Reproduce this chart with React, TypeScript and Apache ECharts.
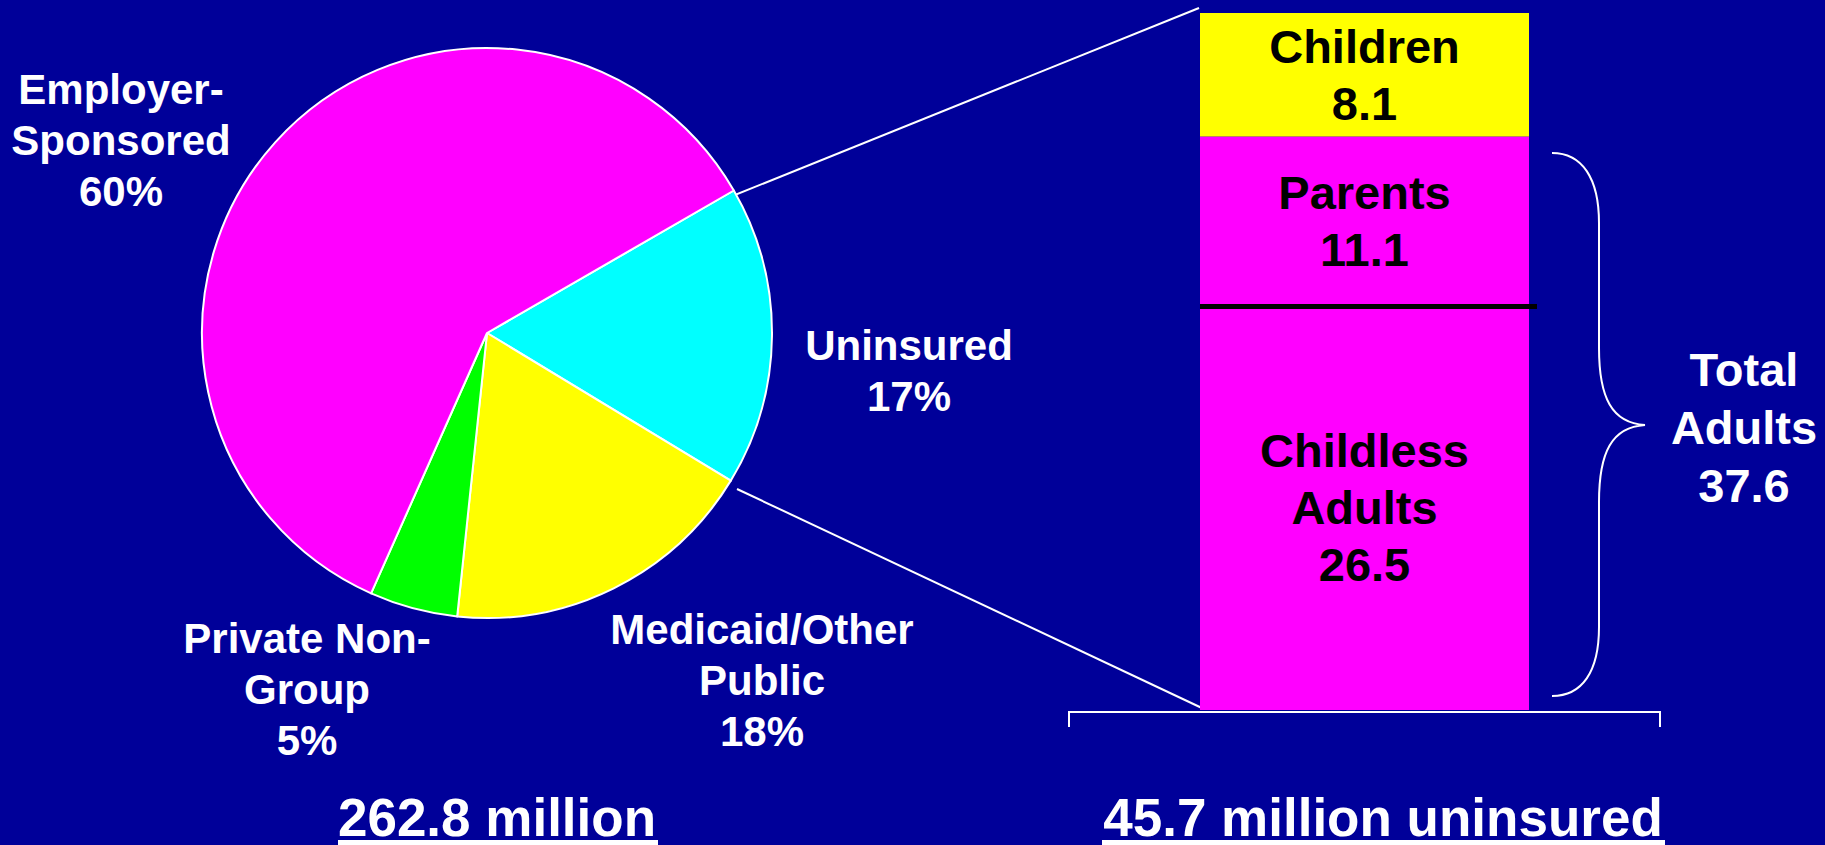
import React, { useEffect, useRef } from 'react';
import * as echarts from 'echarts';

// ---- Data ----
const pieNames = ['Uninsured', 'Medicaid/Other\nPublic', 'Private Non-\nGroup', 'Employer-\nSponsored'];
const pieValues = [17, 18, 5, 60];
const pieColors = ['#00FFFF', '#FFFF00', '#00FF00', '#FF00FF'];

const barNames = ['Childless\nAdults', 'Parents', 'Children'];
const barValues = [26.5, 11.1, 8.1];
const barColors = ['#FF00FF', '#FF00FF', '#FFFF00'];

const totalPopulation = 262.8; // million

// ---- Layout (positions/styles) ----
const pieLabelPos = [
  [909, 371],
  [762, 680],
  [307, 689],
  [121, 140],
];
const FONT = '"Liberation Sans", Arial, Helvetica, sans-serif';
const BG = '#000099';

echarts.graphic.registerShape(
  'brace',
  echarts.graphic.extendPath(
    'M0,0 C30,0 47,25 47,70 L47,195 C47,245 60,270 93,272 C60,274 47,299 47,349 L47,474 C47,519 30,543 0,543',
    {}
  )
);

export default function App() {
  const ref = useRef<HTMLDivElement>(null);

  useEffect(() => {
    document.body.style.margin = '0';
    if (!ref.current) return;
    const chart = echarts.init(ref.current, null, { renderer: 'svg' });

    const uninsuredTotal = barValues.reduce((a, b) => a + b, 0);
    const adultsTotal = barValues[0] + barValues[1];

    const barSeries = barNames.map((name, i) => ({
      type: 'bar',
      name,
      stack: 'u',
      xAxisIndex: 0,
      yAxisIndex: 0,
      barWidth: '100%',
      barCategoryGap: 0,
      data: [barValues[i]],
      itemStyle: { color: barColors[i] },
      label: {
        show: true,
        position: 'inside',
        color: '#000',
        fontFamily: FONT,
        fontWeight: 'bold',
        fontSize: 47,
        lineHeight: 57,
        formatter: (p: any) => `${p.seriesName}\n${p.value}`,
      },
      markLine:
        i === 0
          ? {
              silent: true,
              symbol: ['none', 'none'],
              label: { show: false },
              lineStyle: { color: '#000', width: 5, type: 'solid' },
              data: [
                [
                  { xAxis: 0, yAxis: barValues[0], x: 1200 },
                  { xAxis: 0, yAxis: barValues[0], x: 1537 },
                ],
              ],
            }
          : undefined,
    }));

    const option: any = {
      animation: false,
      backgroundColor: BG,
      grid: { left: 1200, top: 13, width: 329, height: 697 },
      xAxis: { type: 'category', data: ['Uninsured'], show: false },
      yAxis: { type: 'value', min: 0, max: uninsuredTotal, show: false },
      series: [
        {
          type: 'pie',
          center: [487, 333],
          radius: 285,
          startAngle: 30,
          clockwise: true,
          silent: true,
          data: pieNames.map((name, i) => ({
            name,
            value: pieValues[i],
            itemStyle: { color: pieColors[i] },
          })),
          itemStyle: { borderColor: '#fff', borderWidth: 2 },
          label: {
            show: true,
            position: 'outside',
            color: '#fff',
            fontFamily: FONT,
            fontWeight: 'bold',
            fontSize: 42,
            lineHeight: 51,
            align: 'center',
            overflow: 'none',
            edgeDistance: 0,
            formatter: (p: any) => `${p.name}\n${p.value}%`,
          },
          labelLine: { show: false },
          labelLayout: (params: any) => ({
            x: pieLabelPos[params.dataIndex][0],
            y: pieLabelPos[params.dataIndex][1],
            align: 'center',
            verticalAlign: 'middle',
            width: 400,
          }),
        },
        ...barSeries,
      ],
      graphic: [
        {
          type: 'line',
          silent: true,
          shape: { x1: 720, y1: 201, x2: 1199, y2: 8 },
          style: { stroke: '#fff', lineWidth: 2 },
        },
        {
          type: 'line',
          silent: true,
          shape: { x1: 737, y1: 489, x2: 1204, y2: 709 },
          style: { stroke: '#fff', lineWidth: 2 },
        },
        {
          type: 'brace',
          x: 1552,
          y: 153,
          silent: true,
          style: { stroke: '#fff', fill: 'none', lineWidth: 2 },
        },
        {
          type: 'polyline',
          silent: true,
          shape: { points: [[1069, 727], [1069, 712], [1660, 712], [1660, 727]] },
          style: { stroke: '#fff', fill: 'none', lineWidth: 2 },
        },
        {
          type: 'text',
          x: 1744,
          y: 427,
          silent: true,
          style: {
            text: `Total\nAdults\n${adultsTotal.toFixed(1)}`,
            fill: '#fff',
            font: `bold 47px ${FONT}`,
            lineHeight: 58,
            align: 'center',
            verticalAlign: 'middle',
          },
        },
        {
          type: 'text',
          x: 497,
          y: 817,
          silent: true,
          style: {
            text: `${totalPopulation} million`,
            fill: '#fff',
            font: `bold 53px ${FONT}`,
            lineHeight: 50,
            align: 'center',
            verticalAlign: 'middle',
          },
        },
        {
          type: 'rect',
          silent: true,
          shape: { x: 338, y: 840, width: 320, height: 5 },
          style: { fill: '#fff' },
        },
        {
          type: 'text',
          x: 1383,
          y: 817,
          silent: true,
          style: {
            text: `${uninsuredTotal.toFixed(1)} million uninsured`,
            fill: '#fff',
            font: `bold 53px ${FONT}`,
            lineHeight: 50,
            align: 'center',
            verticalAlign: 'middle',
          },
        },
        {
          type: 'rect',
          silent: true,
          shape: { x: 1102, y: 840, width: 563, height: 5 },
          style: { fill: '#fff' },
        },
      ],
    };

    chart.setOption(option);
    return () => chart.dispose();
  }, []);

  return <div ref={ref} style={{ width: 1825, height: 845, overflow: 'hidden' }} />;
}
